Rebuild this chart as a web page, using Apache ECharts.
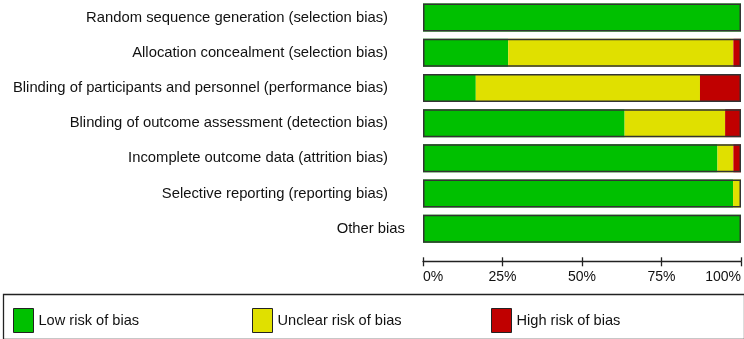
<!DOCTYPE html>
<html>
<head>
<meta charset="utf-8">
<script src="https://cdn.jsdelivr.net/npm/echarts@6/dist/echarts.min.js"></script>
<style>
  html, body { margin: 0; padding: 0; background: #fff; }
  #risk-bar-chart { width: 744px; height: 339px; }
</style>
</head>
<body>
<div id="risk-bar-chart"></div>
<script>
// risk of bias domains, top to bottom
const domains = [
  'Random sequence generation (selection bias)',
  'Allocation concealment (selection bias)',
  'Blinding of participants and personnel (performance bias)',
  'Blinding of outcome assessment (detection bias)',
  'Incomplete outcome data (attrition bias)',
  'Selective reporting (reporting bias)',
  'Other bias',
];
// percent of studies per judgement
const lowRisk = [100, 26.8, 16.6, 63.4, 92.6, 97.5, 100];
const unclearRisk = [0, 70.8, 70.5, 31.6, 5.0, 2.5, 0];
const highRisk = [0, 2.4, 12.9, 5.0, 2.4, 0, 0];
const rowTotals = [100, 100, 100, 100, 100, 100, 100];
const tickValues = [0, 25, 50, 75, 100];

const FONT = '"Liberation Sans", Arial, sans-serif';
const colors = { low: '#00c000', unclear: '#e0e000', high: '#c00000' };

const chart = echarts.init(document.getElementById('risk-bar-chart'), null, { renderer: 'canvas' });

function stackSeries(name, data, color) {
  return {
    name,
    type: 'bar',
    stack: 'risk',
    barWidth: 28,
    itemStyle: { color },
    data,
  };
}

function legendItem(name, left) {
  return {
    data: [name],
    left,
    top: 303,
    icon: 'rect',
    itemWidth: 20,
    itemHeight: 24,
    selectedMode: false,
    itemStyle: { borderColor: '#222', borderWidth: 1 },
    textStyle: { fontFamily: FONT, fontSize: 14.6, color: '#111' },
  };
}

const axisCommon = {
  type: 'value',
  min: tickValues[0],
  max: tickValues[tickValues.length - 1],
  interval: 25,
  position: 'bottom',
  offset: 15,
  splitLine: { show: false },
};

chart.setOption({
  animation: false,
  grid: { left: 423, right: 3, top: -3.3, bottom: 92.7 },
  xAxis: [
    Object.assign({}, axisCommon, {
      axisLine: { show: true, lineStyle: { color: '#222', width: 1.3 } },
      axisTick: { show: true, length: 5, lineStyle: { color: '#222', width: 1.3 } },
      axisLabel: {
        formatter: '{value}%',
        fontFamily: FONT,
        fontSize: 14,
        color: '#111',
        margin: 9,
        alignMinLabel: 'left',
        alignMaxLabel: 'right',
      },
    }),
    Object.assign({}, axisCommon, {
      axisLine: { show: false },
      axisTick: { show: true, inside: true, length: 4, lineStyle: { color: '#222', width: 1.3 } },
      axisLabel: { show: false },
    }),
  ],
  yAxis: {
    type: 'category',
    inverse: true,
    data: domains,
    axisLine: { show: false },
    axisTick: { show: false },
    axisLabel: {
      fontFamily: FONT,
      fontSize: 14.8,
      color: '#111',
      margin: 18,
      // the long labels sit a little further from the bars than "Other bias"
      formatter: (v) => (v === 'Other bias' ? '{s|' + v + '}' : '{l|' + v + '}'),
      rich: {
        l: { fontFamily: FONT, fontSize: 14.8, color: '#111', padding: [0, 17, 0, 0] },
        s: { fontFamily: FONT, fontSize: 14.8, color: '#111' },
      },
    },
  },
  legend: [
    legendItem('Low risk of bias', 8),
    legendItem('Unclear risk of bias', 247),
    legendItem('High risk of bias', 486),
  ],
  graphic: [
    {
      type: 'rect',
      left: 1,
      top: 292,
      shape: { width: 741, height: 45 },
      style: { fill: 'none', stroke: '#222', lineWidth: 1.3 },
      silent: true,
    },
  ],
  series: [
    stackSeries('Low risk of bias', lowRisk, colors.low),
    stackSeries('Unclear risk of bias', unclearRisk, colors.unclear),
    stackSeries('High risk of bias', highRisk, colors.high),
    {
      name: 'outline',
      type: 'bar',
      barWidth: 28,
      barGap: '-100%',
      silent: true,
      z: 5,
      itemStyle: { color: 'transparent', borderColor: '#333', borderWidth: 1.5 },
      data: rowTotals,
    },
  ],
});
</script>
</body>
</html>
